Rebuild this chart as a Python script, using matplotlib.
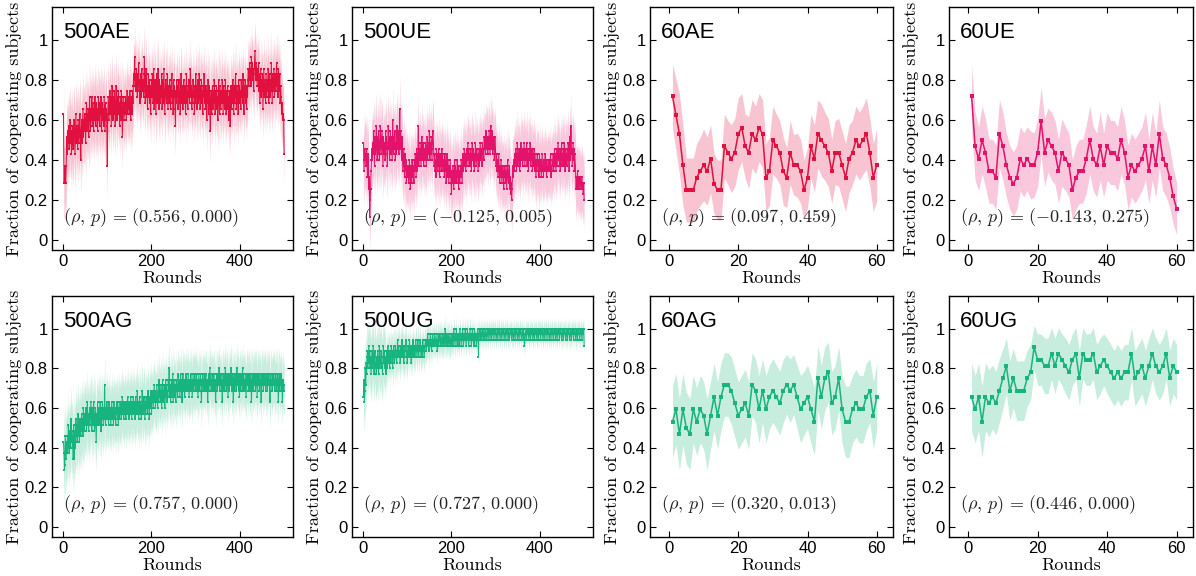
#-----------------------------------------------------------------------------------------------
# Fraction of cooperating subjects per round, 8 treatments (2 x 4 panels)
#-----------------------------------------------------------------------------------------------

import numpy as np
import matplotlib
matplotlib.use('Agg')
import matplotlib.pyplot as plt

plt.rcParams['mathtext.fontset'] = 'cm'

# Long treatments: number of cooperators out of 35 subjects, rounds 1..500
n_500 = 35
coop_500ae = [
    22, 10, 10, 13, 10, 10, 13, 16, 18, 15, 19, 17, 20, 16, 18, 21, 17, 19, 15, 18,
    20, 17, 16, 19, 21, 18, 15, 19, 22, 17, 20, 18, 16, 21, 19, 17, 20, 22, 18, 14,
    19, 21, 17, 20, 23, 18, 21, 19, 22, 20, 17, 21, 24, 19, 22, 20, 23, 18, 21, 25,
    22, 19, 23, 21, 25, 20, 22, 24, 19, 23, 21, 25, 22, 20, 24, 21, 23, 19, 22, 25,
    21, 24, 20, 23, 22, 25, 19, 22, 24, 21, 23, 20, 25, 22, 19, 24, 21, 23, 20, 13,
    22, 25, 23, 21, 24, 26, 22, 25, 20, 24, 27, 23, 21, 25, 22, 26, 24, 20, 23, 27,
    24, 21, 25, 23, 26, 22, 24, 20, 25, 23, 21, 26, 24, 18, 22, 25, 23, 21, 24, 22,
    25, 23, 21, 24, 26, 22, 25, 23, 24, 22, 26, 23, 21, 25, 24, 22, 26, 24, 27, 29,
    28, 32, 27, 29, 26, 30, 28, 25, 29, 27, 31, 26, 28, 24, 27, 29, 25, 30, 27, 26,
    28, 25, 29, 32, 26, 24, 28, 30, 25, 27, 23, 26, 29, 25, 28, 24, 27, 22, 26, 28,
    25, 29, 24, 27, 30, 23, 26, 28, 25, 22, 27, 29, 24, 26, 30, 25, 23, 28, 26, 24,
    27, 25, 29, 23, 26, 28, 24, 30, 26, 22, 25, 28, 27, 24, 26, 29, 23, 25, 27, 24,
    28, 26, 23, 27, 25, 29, 24, 26, 22, 28, 25, 27, 23, 20, 26, 24, 28, 25, 27, 23,
    25, 28, 24, 26, 22, 27, 29, 25, 24, 27, 23, 26, 28, 24, 25, 27, 22, 26, 29, 24,
    26, 23, 27, 25, 28, 24, 26, 30, 25, 27, 23, 26, 24, 28, 25, 27, 22, 26, 24, 29,
    25, 27, 23, 26, 28, 24, 25, 29, 26, 23, 27, 25, 28, 24, 26, 22, 27, 25, 29, 24,
    26, 23, 27, 25, 21, 26, 24, 28, 22, 25, 27, 23, 19, 24, 26, 22, 25, 27, 23, 26,
    24, 28, 25, 22, 26, 24, 27, 23, 25, 21, 26, 28, 24, 22, 27, 25, 23, 26, 24, 28,
    25, 22, 27, 24, 26, 23, 28, 25, 22, 26, 24, 27, 23, 25, 21, 26, 24, 20, 25, 27,
    23, 26, 24, 28, 25, 22, 27, 24, 26, 29, 25, 23, 27, 24, 26, 22, 28, 25, 27, 24,
    26, 23, 28, 25, 27, 24, 29, 26, 22, 27, 25, 28, 24, 26, 23, 27, 25, 28, 30, 27,
    29, 31, 28, 30, 27, 32, 29, 31, 28, 30, 26, 29, 31, 33, 30, 28, 31, 29, 27, 30,
    28, 31, 26, 29, 24, 27, 30, 25, 28, 26, 29, 23, 27, 30, 25, 28, 26, 24, 29, 27,
    25, 28, 26, 30, 24, 27, 29, 25, 28, 26, 31, 27, 24, 29, 26, 28, 30, 25, 27, 29,
    26, 28, 31, 27, 29, 25, 30, 28, 26, 29, 24, 27, 25, 23, 22, 24, 21, 22, 21, 15,
]
coop_500ue = [
    17, 12, 14, 16, 14, 15, 13, 16, 14, 11, 15, 13, 9, 11, 4, 7, 9, 12, 14, 16,
    14, 17, 15, 19, 16, 13, 18, 15, 17, 20, 16, 14, 18, 15, 19, 17, 14, 16, 20, 18,
    15, 17, 19, 16, 13, 18, 16, 15, 17, 14, 19, 16, 18, 15, 13, 17, 20, 16, 18, 14,
    17, 19, 15, 18, 16, 14, 21, 17, 15, 18, 16, 19, 14, 17, 15, 18, 20, 16, 17, 19,
    15, 18, 23, 16, 19, 17, 14, 18, 15, 12, 14, 16, 13, 11, 15, 12, 14, 10, 13, 12,
    11, 13, 10, 12, 14, 11, 9, 13, 12, 10, 14, 11, 13, 12, 10, 14, 12, 15, 13, 11,
    16, 14, 12, 15, 20, 13, 16, 14, 17, 15, 13, 16, 18, 14, 15, 17, 13, 16, 15, 14,
    17, 15, 13, 16, 18, 14, 17, 15, 16, 19, 14, 17, 15, 18, 16, 14, 18, 19, 17, 15,
    13, 15, 12, 14, 11, 16, 13, 15, 12, 14, 16, 13, 11, 15, 13, 14, 12, 16, 13, 15,
    12, 14, 13, 11, 15, 12, 14, 10, 13, 15, 11, 14, 12, 10, 13, 11, 14, 12, 10, 8,
    12, 10, 13, 11, 9, 12, 14, 10, 13, 11, 12, 10, 14, 11, 13, 9, 12, 11, 10, 13,
    11, 14, 12, 10, 13, 15, 12, 14, 16, 13, 15, 12, 14, 16, 13, 15, 17, 14, 16, 13,
    15, 13, 16, 14, 12, 15, 17, 14, 16, 13, 15, 12, 14, 17, 15, 13, 16, 14, 15, 12,
    14, 16, 13, 15, 17, 14, 16, 15, 13, 17, 15, 16, 14, 18, 16, 17, 15, 19, 16, 18,
    17, 15, 18, 16, 19, 17, 15, 18, 20, 16, 17, 19, 15, 18, 16, 17, 14, 18, 16, 15,
    13, 15, 12, 14, 11, 13, 15, 12, 10, 13, 11, 14, 12, 10, 13, 11, 12, 9, 13, 11,
    12, 10, 13, 11, 9, 12, 14, 11, 10, 12, 13, 9, 11, 8, 10, 7, 9, 12, 13, 11,
    14, 12, 15, 13, 16, 14, 12, 15, 17, 13, 15, 14, 16, 12, 15, 13, 17, 14, 16, 15,
    13, 16, 14, 17, 15, 13, 16, 14, 15, 17, 13, 16, 14, 12, 15, 16, 14, 17, 13, 15,
    14, 16, 12, 15, 13, 14, 16, 12, 15, 13, 11, 14, 12, 15, 13, 14, 12, 11, 15, 13,
    12, 14, 11, 13, 15, 12, 13, 11, 14, 12, 13, 15, 12, 14, 11, 13, 12, 14, 13, 12,
    14, 12, 13, 15, 11, 13, 12, 14, 13, 15, 12, 14, 16, 13, 15, 12, 14, 16, 13, 15,
    17, 14, 16, 13, 15, 12, 16, 14, 17, 13, 15, 14, 16, 13, 17, 15, 12, 16, 14, 15,
    13, 16, 14, 17, 15, 12, 16, 18, 14, 20, 15, 16, 13, 15, 17, 14, 16, 12, 15, 13,
    11, 9, 11, 10, 12, 9, 11, 10, 11, 9, 10, 11, 9, 10, 11, 9, 10, 8, 10, 7,
]
coop_500ag = [
    15, 13, 10, 11, 16, 14, 12, 15, 13, 16, 14, 18, 15, 13, 17, 14, 16, 19, 15, 17,
    14, 16, 12, 18, 12, 15, 17, 14, 19, 16, 18, 15, 17, 20, 16, 18, 15, 19, 17, 16,
    18, 20, 17, 19, 16, 21, 18, 17, 20, 19, 18, 21, 17, 19, 22, 18, 20, 17, 19, 21,
    18, 20, 22, 19, 17, 21, 19, 18, 22, 20, 17, 19, 21, 18, 15, 20, 19, 22, 18, 20,
    21, 19, 18, 22, 20, 17, 21, 19, 22, 20, 18, 21, 19, 25, 20, 18, 21, 19, 22, 20,
    19, 21, 18, 22, 20, 19, 21, 18, 20, 22, 19, 21, 20, 18, 22, 19, 21, 20, 18, 21,
    20, 22, 19, 21, 18, 20, 22, 19, 21, 20, 22, 19, 21, 23, 20, 22, 19, 21, 20, 22,
    21, 19, 22, 20, 21, 23, 20, 22, 19, 21, 22, 20, 23, 21, 19, 22, 20, 21, 23, 20,
    22, 21, 19, 23, 20, 22, 21, 24, 20, 22, 19, 21, 23, 20, 22, 21, 19, 22, 24, 21,
    20, 22, 23, 21, 19, 22, 20, 23, 21, 22, 20, 24, 21, 22, 19, 23, 21, 22, 24, 20,
    23, 22, 24, 21, 23, 25, 22, 24, 21, 23, 22, 25, 23, 21, 24, 22, 26, 23, 24, 22,
    25, 23, 21, 24, 26, 22, 24, 23, 25, 21, 24, 26, 23, 25, 22, 24, 23, 26, 24, 28,
    23, 25, 22, 24, 26, 23, 25, 27, 22, 24, 26, 23, 25, 24, 22, 26, 24, 25, 23, 27,
    25, 24, 26, 23, 25, 27, 24, 26, 22, 25, 27, 24, 26, 25, 23, 26, 24, 27, 25, 24,
    26, 24, 27, 25, 23, 26, 24, 25, 27, 24, 26, 23, 25, 27, 24, 26, 25, 27, 24, 26,
    25, 27, 24, 26, 23, 25, 27, 24, 26, 25, 27, 24, 22, 26, 25, 27, 24, 26, 25, 27,
    24, 26, 27, 25, 24, 26, 22, 25, 27, 24, 26, 28, 25, 27, 24, 26, 25, 27, 24, 26,
    27, 25, 24, 26, 22, 25, 27, 26, 24, 27, 25, 26, 28, 24, 26, 25, 27, 24, 26, 22,
    25, 27, 26, 24, 27, 25, 28, 26, 24, 26, 27, 25, 23, 27, 26, 24, 27, 25, 26, 28,
    25, 24, 27, 26, 22, 25, 27, 24, 26, 27, 25, 24, 28, 26, 25, 27, 24, 26, 23, 27,
    26, 24, 27, 25, 26, 28, 24, 27, 25, 26, 24, 27, 25, 23, 26, 27, 25, 27, 24, 26,
    27, 25, 24, 27, 26, 22, 25, 27, 26, 24, 27, 25, 26, 27, 24, 26, 27, 25, 23, 27,
    25, 27, 26, 24, 27, 25, 26, 22, 27, 25, 27, 26, 24, 27, 25, 26, 27, 24, 25, 27,
    26, 24, 27, 25, 26, 27, 24, 22, 26, 27, 25, 26, 24, 27, 25, 26, 27, 25, 24, 26,
    27, 25, 24, 26, 27, 25, 22, 26, 27, 24, 26, 25, 27, 24, 26, 22, 25, 26, 24, 25,
]
coop_500ug = [
    23, 26, 22, 24, 28, 25, 29, 27, 30, 31, 28, 30, 32, 29, 31, 28, 30, 27, 29, 31,
    28, 30, 32, 29, 27, 30, 31, 28, 29, 27, 30, 28, 31, 29, 27, 30, 32, 28, 30, 29,
    31, 28, 29, 27, 30, 32, 29, 31, 28, 30, 29, 27, 31, 30, 28, 32, 29, 30, 31, 28,
    30, 31, 29, 32, 30, 31, 28, 30, 32, 31, 29, 30, 32, 31, 30, 29, 31, 33, 30, 31,
    32, 30, 31, 29, 31, 32, 30, 33, 31, 30, 32, 29, 31, 30, 32, 31, 33, 30, 31, 29,
    31, 32, 30, 31, 33, 30, 32, 31, 29, 32, 30, 31, 33, 31, 30, 32, 31, 30, 33, 32,
    31, 30, 32, 33, 31, 30, 32, 31, 33, 32, 30, 31, 32, 30, 33, 31, 32, 30, 31, 32,
    33, 32, 31, 33, 32, 34, 32, 33, 31, 33, 32, 34, 33, 32, 31, 33, 34, 32, 33, 32,
    34, 33, 32, 33, 34, 32, 33, 31, 33, 34, 32, 33, 34, 33, 32, 34, 33, 32, 33, 34,
    32, 33, 34, 32, 33, 35, 33, 32, 34, 33, 32, 34, 33, 32, 34, 33, 32, 33, 34, 32,
    33, 34, 32, 33, 35, 34, 33, 32, 34, 33, 35, 33, 32, 34, 33, 34, 32, 33, 35, 34,
    33, 32, 34, 33, 35, 34, 32, 33, 34, 33, 35, 34, 32, 33, 34, 35, 33, 34, 32, 33,
    34, 35, 33, 34, 32, 33, 35, 34, 33, 34, 32, 35, 34, 33, 34, 32, 33, 34, 35, 33,
    30, 34, 35, 34, 33, 35, 34, 33, 34, 35, 34, 33, 35, 34, 33, 34, 35, 34, 33, 34,
    35, 34, 33, 35, 34, 35, 33, 34, 35, 34, 33, 35, 34, 35, 34, 33, 35, 34, 35, 34,
    33, 34, 35, 34, 33, 35, 34, 35, 34, 33, 34, 35, 34, 33, 35, 34, 35, 34, 33, 34,
    35, 34, 33, 35, 34, 35, 34, 33, 35, 34, 33, 34, 35, 34, 35, 33, 34, 35, 34, 33,
    34, 35, 34, 33, 35, 34, 35, 34, 33, 34, 35, 34, 33, 35, 34, 35, 34, 33, 34, 35,
    34, 33, 35, 34, 32, 33, 34, 35, 34, 33, 35, 34, 35, 34, 33, 34, 35, 34, 33, 35,
    34, 35, 34, 33, 34, 35, 34, 33, 35, 34, 35, 34, 33, 34, 35, 34, 33, 35, 34, 35,
    34, 33, 35, 34, 35, 34, 33, 34, 35, 34, 33, 35, 34, 35, 34, 33, 35, 34, 35, 34,
    33, 34, 35, 34, 33, 35, 34, 35, 34, 33, 34, 35, 34, 35, 33, 34, 35, 34, 33, 35,
    34, 35, 34, 33, 35, 34, 35, 34, 33, 34, 35, 34, 33, 35, 34, 35, 34, 33, 34, 35,
    34, 33, 35, 34, 35, 34, 33, 34, 35, 34, 33, 35, 34, 35, 34, 33, 35, 34, 35, 34,
    33, 34, 35, 34, 33, 35, 34, 35, 34, 33, 34, 35, 34, 35, 33, 34, 35, 34, 35, 32,
]
# band half-width, one estimate per block of 50 rounds
band_500ae = [0.18, 0.17, 0.16, 0.16, 0.16, 0.15, 0.16, 0.16, 0.15, 0.16]
band_500ue = [0.17, 0.17, 0.16, 0.16, 0.16, 0.16, 0.16, 0.16, 0.15, 0.16]
band_500ag = [0.17, 0.16, 0.15, 0.15, 0.14, 0.14, 0.13, 0.13, 0.13, 0.13]
band_500ug = [0.15, 0.10, 0.08, 0.07, 0.06, 0.05, 0.05, 0.05, 0.05, 0.05]

# Short treatments: number of cooperators out of 32 subjects, rounds 1..60
n_60 = 32
coop_60ae = [23, 20, 17, 12, 8, 8, 8, 10, 11, 12, 11, 13, 9, 8, 8, 15, 14, 13, 14, 17,
             18, 15, 14, 17, 16, 18, 17, 10, 11, 16, 15, 14, 11, 10, 14, 12, 12, 11, 8, 10,
             15, 13, 17, 16, 15, 14, 11, 14, 14, 12, 10, 13, 14, 16, 15, 16, 17, 14, 10, 12]
coop_60ue = [23, 15, 13, 16, 14, 11, 11, 10, 17, 15, 12, 10, 9, 10, 13, 12, 13, 12, 12, 14,
             19, 14, 16, 15, 14, 11, 14, 13, 12, 8, 10, 11, 11, 13, 16, 13, 12, 15, 12, 15,
             14, 14, 13, 16, 14, 10, 12, 11, 12, 13, 15, 11, 15, 12, 17, 13, 12, 10, 7, 5]
coop_60ag = [17, 19, 15, 19, 16, 15, 19, 17, 19, 18, 15, 18, 21, 18, 21, 23, 23, 22, 20, 18,
             19, 20, 18, 23, 22, 19, 22, 19, 21, 22, 21, 20, 22, 23, 22, 23, 21, 19, 20, 21,
             19, 17, 24, 21, 24, 25, 20, 21, 24, 19, 17, 17, 19, 20, 19, 19, 21, 22, 18, 21]
coop_60ug = [21, 19, 21, 17, 21, 20, 21, 20, 22, 24, 26, 22, 24, 22, 22, 22, 24, 25, 29, 27,
             27, 26, 26, 28, 26, 28, 27, 26, 25, 27, 28, 24, 28, 27, 27, 28, 25, 26, 27, 26,
             25, 24, 25, 24, 25, 25, 28, 24, 25, 26, 24, 26, 28, 26, 25, 26, 28, 24, 26, 25]
band_60ae = [0.16, 0.18, 0.20, 0.20, 0.16, 0.16, 0.16, 0.17, 0.17, 0.18, 0.17, 0.17, 0.15, 0.15, 0.15,
             0.16, 0.16, 0.17, 0.17, 0.18, 0.17, 0.16, 0.18, 0.17, 0.17, 0.17, 0.17, 0.17, 0.17, 0.17,
             0.16, 0.16, 0.17, 0.15, 0.16, 0.15, 0.16, 0.16, 0.15, 0.15, 0.16, 0.17, 0.17, 0.18, 0.17,
             0.17, 0.16, 0.16, 0.17, 0.17, 0.17, 0.17, 0.16, 0.17, 0.17, 0.17, 0.18, 0.17, 0.17, 0.18]
band_60ue = [0.16, 0.17, 0.16, 0.17, 0.17, 0.16, 0.16, 0.16, 0.17, 0.17, 0.16, 0.16, 0.16, 0.16, 0.16,
             0.16, 0.16, 0.17, 0.16, 0.17, 0.17, 0.17, 0.16, 0.17, 0.16, 0.16, 0.17, 0.16, 0.16, 0.15,
             0.16, 0.16, 0.16, 0.17, 0.17, 0.16, 0.16, 0.17, 0.16, 0.17, 0.16, 0.16, 0.16, 0.17, 0.16,
             0.16, 0.16, 0.16, 0.16, 0.16, 0.17, 0.16, 0.17, 0.16, 0.17, 0.16, 0.16, 0.15, 0.14, 0.13]
band_60ag = [0.18, 0.18, 0.18, 0.18, 0.18, 0.18, 0.17, 0.17, 0.17, 0.17, 0.18, 0.17, 0.17, 0.17, 0.17,
             0.16, 0.16, 0.17, 0.17, 0.17, 0.17, 0.17, 0.17, 0.16, 0.16, 0.17, 0.16, 0.17, 0.16, 0.16,
             0.16, 0.16, 0.16, 0.15, 0.16, 0.15, 0.16, 0.17, 0.16, 0.16, 0.17, 0.17, 0.16, 0.16, 0.16,
             0.15, 0.16, 0.16, 0.16, 0.17, 0.18, 0.18, 0.17, 0.17, 0.17, 0.17, 0.17, 0.16, 0.17, 0.17]
band_60ug = [0.17, 0.17, 0.17, 0.18, 0.17, 0.17, 0.16, 0.16, 0.16, 0.15, 0.14, 0.15, 0.15, 0.15, 0.15,
             0.15, 0.14, 0.14, 0.11, 0.13, 0.13, 0.14, 0.14, 0.13, 0.14, 0.13, 0.13, 0.14, 0.14, 0.13,
             0.13, 0.14, 0.13, 0.13, 0.13, 0.13, 0.14, 0.14, 0.13, 0.14, 0.14, 0.14, 0.14, 0.14, 0.14,
             0.14, 0.13, 0.14, 0.14, 0.14, 0.14, 0.14, 0.13, 0.14, 0.14, 0.14, 0.13, 0.14, 0.14, 0.14]

titles = ['500AE', '500UE', '60AE', '60UE', '500AG', '500UG', '60AG', '60UG']
stats = ['(0.556,\\, 0.000)', '(-0.125,\\, 0.005)', '(0.097,\\, 0.459)', '(-0.143,\\, 0.275)',
         '(0.757,\\, 0.000)', '(0.727,\\, 0.000)', '(0.320,\\, 0.013)', '(0.446,\\, 0.000)']

red_line, red_band = '#E2103F', '#F8C4D2'
pink_line, pink_band = '#E3126A', '#F9C8DC'
green_line, green_band = '#18B47F', '#C6EDDD'

panels = [
    (coop_500ae, n_500, band_500ae, red_line, red_band),
    (coop_500ue, n_500, band_500ue, pink_line, pink_band),
    (coop_60ae, n_60, band_60ae, red_line, red_band),
    (coop_60ue, n_60, band_60ue, pink_line, pink_band),
    (coop_500ag, n_500, band_500ag, green_line, green_band),
    (coop_500ug, n_500, band_500ug, green_line, green_band),
    (coop_60ag, n_60, band_60ag, green_line, green_band),
    (coop_60ug, n_60, band_60ug, green_line, green_band),
]

# Axes placement in pixels (left, right) per column and (top, bottom) per row
col_px = [(52, 293), (352, 593), (650, 893), (949, 1193)]
row_px = [(7, 250), (296, 537)]
W, H = 1196, 576

fig = plt.figure(figsize=(W / 100, H / 100), dpi=100)

for i, (counts, n, band, lc, bc) in enumerate(panels):
    r, c = divmod(i, 4)
    x0, x1 = col_px[c]
    y0, y1 = row_px[r]
    ax = fig.add_axes([x0 / W, 1 - y1 / H, (x1 - x0) / W, (y1 - y0) / H])

    frac = np.array(counts) / n
    rounds = np.arange(1, len(frac) + 1)
    if n == n_500:
        blk = np.minimum((rounds - 1) // 50, len(band) - 1)
        hw = np.array(band)[blk]
        lw, ms = 0.75, 1.9
    else:
        hw = np.array(band)
        lw, ms = 1.1, 2.4
    ax.fill_between(rounds, frac - hw, frac + hw, color=bc, linewidth=0)
    ax.plot(rounds, frac, color=lc, linewidth=lw, marker='s',
            markersize=ms, markeredgewidth=0)

    if n == n_500:
        ax.set_xlim(-25, 520)
        ax.set_xticks([0, 200, 400])
    else:
        ax.set_xlim(-5.5, 64.7)
        ax.set_xticks([0, 20, 40, 60])
    ax.set_ylim(-0.05, 1.165)
    ax.set_yticks([0, 0.2, 0.4, 0.6, 0.8, 1])
    ax.set_yticklabels(['0', '0.2', '0.4', '0.6', '0.8', '1'])

    ax.tick_params(direction='in', top=True, right=True, length=4, width=0.8,
                   labelsize=12, pad=3)
    for lab in ax.get_xticklabels() + ax.get_yticklabels():
        lab.set_fontfamily('Liberation Sans')
    for sp in ax.spines.values():
        sp.set_linewidth(1.0)

    ax.set_xlabel('Rounds', fontname='cmr10', fontsize=13, labelpad=1)
    ax.set_ylabel('Fraction of cooperating subjects', fontname='cmr10', fontsize=13,
                  labelpad=2)

    ax.text(0.046, 0.872, titles[i], transform=ax.transAxes, fontsize=16,
            fontfamily='Liberation Sans', va='baseline', ha='left')
    ax.text(0.046, 0.115, r'$(\rho,\, p)\, =\, ' + stats[i] + '$',
            transform=ax.transAxes, fontsize=13, color='#222222',
            va='baseline', ha='left')

fig.savefig('out.png', dpi=100)
